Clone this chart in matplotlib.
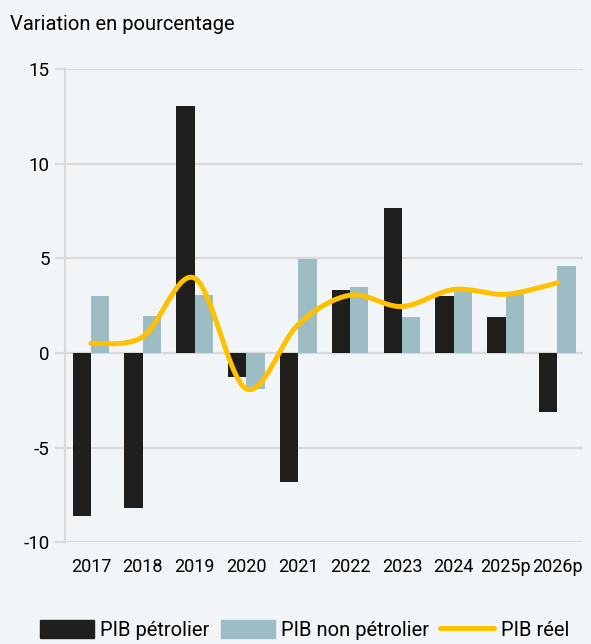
import numpy as np
import matplotlib
matplotlib.use("Agg")
import matplotlib.pyplot as plt
from matplotlib.lines import Line2D
from matplotlib.patches import Patch

# Croissance du PIB, variation annuelle en %
years = ["2017", "2018", "2019", "2020", "2021", "2022", "2023", "2024", "2025p", "2026p"]
pib_petrolier = [-8.6, -8.2, 13.05, -1.25, -6.8, 3.3, 7.65, 3.0, 1.9, -3.1]
pib_non_petrolier = [3.0, 1.95, 3.05, -1.9, 4.95, 3.5, 1.9, 3.25, 3.1, 4.6]
pib_reel = [0.5, 0.85, 3.95, -1.9, 1.5, 3.05, 2.45, 3.35, 3.1, 3.7]

BG = "#F2F5F7"
C_PET = "#1E1E1C"
C_NON = "#9DBCC4"
C_REEL = "#FFC000"
GRID = "#D9D9D9"

plt.rcParams["font.family"] = ["Roboto", "DejaVu Sans"]


def smooth_curve(x, y, n=30):
    """Bezier smoothing through every point (like a spreadsheet smoothed line)"""
    x = np.asarray(x, float)
    y = np.asarray(y, float)
    px = np.concatenate([[x[0]], x, [x[-1]]])
    py = np.concatenate([[y[0]], y, [y[-1]]])
    xs, ys = [], []
    t = np.linspace(0, 1, n)
    for i in range(len(x) - 1):
        p0 = np.array([px[i + 1], py[i + 1]])
        p3 = np.array([px[i + 2], py[i + 2]])
        c1 = p0 + (np.array([px[i + 2], py[i + 2]]) - np.array([px[i], py[i]])) / 6
        c2 = p3 - (np.array([px[i + 3], py[i + 3]]) - np.array([px[i + 1], py[i + 1]])) / 6
        b = ((1 - t) ** 3)[:, None] * p0 + (3 * (1 - t) ** 2 * t)[:, None] * c1 \
            + (3 * (1 - t) * t ** 2)[:, None] * c2 + (t ** 3)[:, None] * p3
        xs.append(b[:, 0])
        ys.append(b[:, 1])
    return np.concatenate(xs), np.concatenate(ys)


fig = plt.figure(figsize=(5.91, 6.44), dpi=100, facecolor=BG)
ax = fig.add_axes([0.110, 0.158, 0.877, 0.735], facecolor=BG)

x = np.arange(len(years))
w = 0.355
ax.bar(x - w, pib_petrolier, w, align="edge", color=C_PET, zorder=3)
ax.bar(x, pib_non_petrolier, w, align="edge", color=C_NON, zorder=3)

sx, sy = smooth_curve(x, pib_reel)
ax.plot(sx, sy, color=C_REEL, lw=3.6, solid_capstyle="round", zorder=4)

ax.set_xlim(-0.5, len(years) - 0.5)
ax.set_ylim(-10, 15)
ax.set_yticks([-10, -5, 0, 5, 10, 15])
ax.set_yticklabels(["-10", "-5", "0", "5", "10", "15"])
ax.set_xticks(x)
ax.set_xticklabels(years)
ax.yaxis.grid(True, color=GRID, lw=1.6, zorder=0)
ax.set_axisbelow(True)

for s in ["top", "right", "bottom"]:
    ax.spines[s].set_visible(False)
ax.spines["left"].set_color(GRID)
ax.spines["left"].set_linewidth(1.6)
ax.tick_params(axis="y", length=7, width=1.6, color=GRID, pad=4, labelsize=13.5)
ax.tick_params(axis="x", length=0, pad=11, labelsize=13)

fig.text(0.017, 0.962, "Variation en pourcentage", fontsize=14.5, va="center", ha="left")

handles = [
    Patch(color=C_PET, label="PIB pétrolier"),
    Patch(color=C_NON, label="PIB non pétrolier"),
    Line2D([0], [0], color=C_REEL, lw=3.6, solid_capstyle="round", label="PIB réel"),
]
fig.legend(handles=handles, loc="center", bbox_to_anchor=(0.515, 0.022), ncol=3,
           frameon=False, fontsize=14.5, handlelength=2.7, handleheight=1.0,
           handletextpad=0.3, columnspacing=0.55, borderpad=0.2)

fig.savefig("out.png", dpi=100, facecolor=BG)
